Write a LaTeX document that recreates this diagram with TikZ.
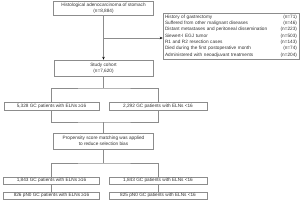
\documentclass[tikz,border=0pt]{standalone}
\usepackage{fontspec}
\setmainfont{Liberation Sans}
\usetikzlibrary{arrows.meta}
\begin{document}
\begin{tikzpicture}[x=1pt,y=-1pt,
  box/.style={draw=black!45, line width=0.5pt, inner sep=0pt, align=center,
    font=\fontsize{4.7}{5.6}\selectfont, text=black!80},
  conn/.style={draw=black!45, line width=0.5pt},
  arr/.style={conn, -{Stealth[length=3pt,width=2.4pt,color=black]}}]
\useasboundingbox (0,0) rectangle (300,209);
\node[box, minimum width=100pt, minimum height=14pt] (b1) at (103.5,8)
  {Histological adenocarcinoma of stomach\\(n=8,884)};
\node[box, minimum width=136pt, minimum height=46pt, text width=132pt, align=left,
  inner xsep=2pt, inner ysep=1.5pt,
  font=\fontsize{4.7}{6.3}\selectfont] (ex) at (231,36)
  {History of gastrectomy\hfill(n=71)\\
   Suffered from other malignant diseases\hfill(n=46)\\
   Distant metastases and peritoneal dissemination\hfill(n=223)\\
   Siewert-I EGJ tumor\hfill(n=503)\\
   R1 and R2 resection cases\hfill(n=143)\\
   Died during the first postoperative month\hfill(n=74)\\
   Administered with neoadjuvant treatments\hfill(n=204)};
\node[box, minimum width=99pt, minimum height=16pt] (co) at (103.5,68)
  {Study cohort\\(n=7,620)};
\node[box, minimum width=95pt, minimum height=8pt] (l1) at (51.5,106)
  {5,328 GC patients with ELNs ≥16};
\node[box, minimum width=98pt, minimum height=8pt] (r1) at (158,106)
  {2,292 GC patients with ELNs <16};
\node[box, minimum width=100pt, minimum height=16pt] (ps) at (103.5,141)
  {Propensity score matching was applied\\to reduce selection bias};
\node[box, minimum width=96pt, minimum height=7.5pt] (l2) at (51.5,180.5)
  {1,843 GC patients with ELNs ≥16};
\node[box, minimum width=98pt, minimum height=7.5pt] (r2) at (158,180.5)
  {1,843 GC patients with ELNs <16};
\node[box, minimum width=96pt, minimum height=7.5pt] (l3) at (51.5,195.5)
  {826 pN0 GC patients with ELNs ≥16};
\node[box, minimum width=98pt, minimum height=7.5pt] (r3) at (158,195.5)
  {825 pN0 GC patients with ELNs <16};
\coordinate (j0) at (103.5,38);
\coordinate (j1) at (103.5,88);
\coordinate (j2) at (103.5,122);
\coordinate (j3) at (103.5,163);
\draw[arr] (b1.south) -- (co.north);
\draw[arr] (j0) -- (j0 -| ex.west);
\draw[conn] (co.south) -- (j1);
\draw[conn] (l1.north) |- (j1) -| (r1.north);
\draw[conn] (l1.south) |- (j2) -| (r1.south);
\draw[conn] (j2) -- (ps.north);
\draw[conn] (ps.south) -- (j3);
\draw[conn] (l2.north) |- (j3) -| (r2.north);
\draw[conn] (l2.south) -- (l3.north);
\draw[conn] (r2.south) -- (r3.north);
\end{tikzpicture}
\end{document}
